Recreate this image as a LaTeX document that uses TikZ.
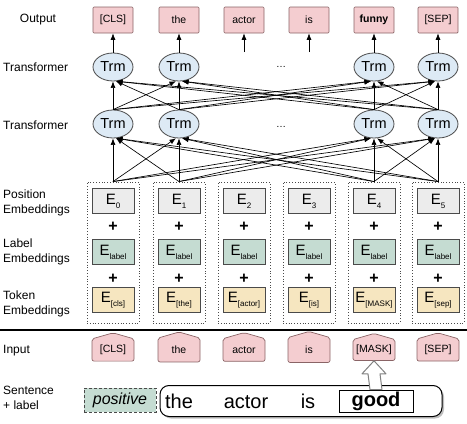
\documentclass[tikz,border=0pt]{standalone}
\usepackage{fontspec}
\setmainfont{Liberation Sans}
\usetikzlibrary{calc}
\usetikzlibrary{arrows.meta}
\usetikzlibrary{shapes.geometric,shapes.symbols,shadows}
\tikzset{>={Latex[length=6.5pt,width=5pt]}}
\definecolor{outpink}{HTML}{F4CDD0}
\definecolor{pinkedge}{HTML}{8A6466}
\definecolor{trmblue}{HTML}{DDEAF5}
\definecolor{posgray}{HTML}{ECECEC}
\definecolor{lblgreen}{HTML}{C5DCD2}
\definecolor{toktan}{HTML}{F6E6C0}
\definecolor{boxedge}{HTML}{4A4A4A}
\newcommand{\Esub}[1]{E\raisebox{-0.5ex}{\fontsize{8}{9}\selectfont #1}}
\tikzset{trm/.style = {shape=ellipse,draw=boxedge,fill=trmblue,line width=0.8pt,minimum width=40pt,minimum height=28pt,inner sep=0pt,font=\fontsize{14.5}{16}\selectfont}}
\tikzset{outbox/.style = {draw=pinkedge,fill=outpink,line width=0.7pt,rounded corners=1pt,minimum width=40pt,minimum height=26pt,inner sep=0pt,font=\fontsize{10.5}{12}\selectfont}}
\tikzset{inbox/.style = {shape=signal,signal to=north,signal pointer angle=148,draw=pinkedge,fill=outpink,line width=0.7pt,rounded corners=2pt,minimum width=42pt,minimum height=26pt,inner sep=0pt,font=\fontsize{10.5}{12}\selectfont}}
\tikzset{ebox/.style = {draw=boxedge,line width=0.8pt,minimum width=42pt,minimum height=25pt,inner sep=0pt,font=\fontsize{15}{16}\selectfont}}
\tikzset{column/.style = {draw=boxedge,line width=0.9pt,dash pattern=on 0.9pt off 1.9pt,minimum width=52pt,minimum height=141pt,inner sep=0pt}}
\tikzset{plus/.style = {inner sep=0pt,font=\fontsize{16}{16}\selectfont\bfseries}}
\tikzset{lefttext/.style = {align=left,anchor=west,inner sep=0pt,font=\fontsize{12}{14.5}\selectfont}}
\tikzset{link/.style = {->,line width=0.65pt}}

\begin{document}
\begin{tikzpicture}[x=1pt,y=-1pt]
    \useasboundingbox (0,0) rectangle (467,424);

    % row labels
    \node[lefttext,anchor=center] (lout) at (38,20) {Output};
    \node[lefttext] (ltrmb) at (3,67) {Transformer};
    \node[lefttext] (ltrma) at (3,125) {Transformer};
    \node[lefttext] (lpos) at (3,203) {Position\\Embeddings};
    \node[lefttext] (llbl) at (3,252) {Label\\Embeddings};
    \node[lefttext] (ltok) at (3,304) {Token\\Embeddings};
    \node[lefttext] (lin) at (3,351) {Input};
    \node[lefttext] (lsent) at (3,398) {Sentence\\+ label};

    % output
    \node[outbox] (out0) at (113,20) {[CLS]};
    \node[outbox] (out1) at (179,20) {the};
    \node[outbox] (out2) at (244,20) {actor};
    \node[outbox] (out3) at (309,20) {is};
    \node[outbox] (out4) at (374,20) {\textbf{funny}};
    \node[outbox] (out5) at (438,20) {[SEP]};

    % transformer layers
    \node[trm] (u0) at (113,67) {Trm};
    \node[trm] (u1) at (179,67) {Trm};
    \node[trm] (u4) at (374,67) {Trm};
    \node[trm] (u5) at (438,67) {Trm};
    \node (udots) at (281,67) {\dots};

    \node[trm] (l0) at (113,124) {Trm};
    \node[trm] (l1) at (179,124) {Trm};
    \node[trm] (l4) at (374,124) {Trm};
    \node[trm] (l5) at (438,124) {Trm};
    \node (ldots) at (281,127) {\dots};

    % embeddings
    \foreach \x/\i/\tok in {113/0/{[cls]},179/1/{[the]},244/2/{[actor]},309/3/{[is]},374/4/{[MASK]},438/5/{[sep]}} {
        \node[column] (col\i) at (\x,252.5) {};
        \node[ebox,fill=posgray] (pos\i) at (\x,201) {\Esub{\i}};
        \node[plus] (pa\i) at (\x,227) {+};
        \node[ebox,fill=lblgreen] (lbl\i) at (\x,252) {\Esub{label}};
        \node[plus] (pb\i) at (\x,279) {+};
        \node[ebox,fill=toktan] (tok\i) at (\x,300) {\Esub{\tok}};
    }

    % arrows
    \foreach \i in {0,1,4,5}
        \draw[link] (u\i.north) -- (out\i.south);
    \coordinate (a2) at (244,52);
    \coordinate (a3) at (309,52);
    \draw[link] (a2) -- (out2.south);
    \draw[link] (a3) -- (out3.south);

    \foreach \i in {0,1,4,5} {
        \foreach \j in {0,1,4,5} {
            \pgfmathtruncatemacro{\ang}{-90-12*sign(\j-\i)}
            \draw[link] (l\i.north) -- (u\j.\ang);
            \draw[link] (col\i.north) -- (l\j.\ang);
        }
    }

    \draw[line width=1.6pt] (0,330) -- (467,330);

    % input
    \node[inbox] (in0) at (113,350) {[CLS]};
    \node[inbox] (in1) at (179,350) {the};
    \node[inbox] (in2) at (244,350) {actor};
    \node[inbox] (in3) at (309,350) {is};
    \node[inbox] (in4) at (374,350) {[MASK]};
    \node[inbox] (in5) at (438,350) {[SEP]};

    % sentence + label
    \node[draw=boxedge,fill=lblgreen,line width=0.8pt,dash pattern=on 3pt off 2pt,minimum width=72pt,minimum height=24pt,inner sep=0pt,font=\fontsize{16}{18}\selectfont] (positive) at (120,400) {\textit{positive}};
    \node[draw=black,fill=white,line width=1pt,rounded corners=9pt,drop shadow={shadow xshift=2pt,shadow yshift=-2pt},minimum width=282pt,minimum height=31pt] (sent) at (301,401) {};
    \node[anchor=base,font=\fontsize{20}{22}\selectfont] (wthe) at (179,408) {the};
    \node[anchor=base,font=\fontsize{20}{22}\selectfont] (wactor) at (246,408) {actor};
    \node[anchor=base,font=\fontsize{20}{22}\selectfont] (wis) at (308,408) {is};
    \node[draw=black,line width=1pt,minimum width=74pt,minimum height=22pt,inner sep=0pt,font=\fontsize{20}{22}\selectfont\bfseries] (good) at (376,401) {good};

    \draw[draw=gray,fill=white,line width=1pt,line join=round] ($(good.north)+(-6,0)$) -- ($(in4.south)+(-6,13)$) -- ($(in4.south)+(-12,13)$) -- (in4.south) -- ($(in4.south)+(12,13)$) -- ($(in4.south)+(6,13)$) -- ($(good.north)+(6,0)$) -- cycle;
\end{tikzpicture}
\end{document}
